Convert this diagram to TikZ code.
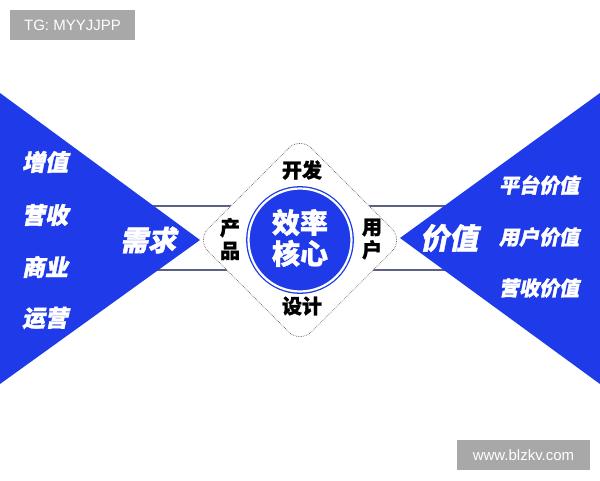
\documentclass[tikz,border=0pt]{standalone}
\usepackage{fontspec}
\setmainfont{Liberation Sans}
\newfontfamily\cjk{Noto Sans CJK SC}[BoldFeatures={FakeBold=1.2}]
\newfontfamily\cjkslant{Noto Sans CJK SC}[FakeSlant=0.2, BoldFeatures={FakeBold=1.5}]
\definecolor{mainblue}{RGB}{31,58,232}
\definecolor{bandline}{RGB}{92,96,132}
\definecolor{markgray}{RGB}{168,168,168}
\tikzset{
  sidetext/.style={text=white, font=\cjkslant\bfseries\fontsize{#1}{#1}\selectfont, inner sep=0pt},
  ringtext/.style={text=black, font=\cjk\bfseries\fontsize{20}{23}\selectfont, inner sep=0pt, align=center},
  stamp/.style={fill=markgray, text=white, font=\fontsize{15}{15}\selectfont, inner sep=0pt, minimum height=30pt}
}
\begin{document}
\begin{tikzpicture}[x=1pt, y=-1pt]
  \useasboundingbox (0,0) rectangle (600,480);

  % Band lines behind everything
  \draw[bandline, line width=1.6pt] (140,206) -- (460,206);
  \draw[bandline, line width=1.6pt] (140,270) -- (460,270);

  % Triangles
  \fill[mainblue] (0,93) -- (200,240) -- (0,384) -- cycle;
  \fill[mainblue] (600,93) -- (400,238) -- (600,384) -- cycle;

  % Frame and core
  \node[draw=black!60, fill=white, densely dotted, line width=0.7pt, rounded corners=16pt,
        minimum size=146pt, rotate=45] (frame) at (300,240) {};
  \node[circle, fill=mainblue, draw=mainblue, double=white, double distance=2.2pt,
        line width=1.3pt, minimum size=103pt] (core) at (300,240) {};
  \node[sidetext=28, font=\cjk\bfseries\fontsize{28}{31}\selectfont, align=center] (coretext) at (300,238) {效率\\核心};

  % Texts on the frame
  \node[ringtext] (kaifa) at (302,170) {开发};
  \node[ringtext] (sheji) at (302,306) {设计};
  \node[ringtext] (chanpin) at (230,239) {产\\品};
  \node[ringtext] (yonghu) at (372,239) {用\\户};

  % Left side
  \node[sidetext=28] (xuqiu) at (148,240) {需求};
  \foreach \y/\name/\txt in {162/zz/增值, 215/ys/营收, 267/sy/商业, 318/yy/运营} {
    \node[sidetext=23] (\name) at (45,\y) {\txt};
  }

  % Right side
  \node[sidetext=29] (jiazhi) at (449,238) {价值};
  \foreach \y/\name/\txt in {185/pt/平台价值, 237/yh/用户价值, 288/ysj/营收价值} {
    \node[sidetext=20] (\name) at (539,\y) {\txt};
  }

  % Stamps
  \node[stamp, minimum width=125pt] (tg) at (72.5,25) {TG: MYYJJPP};
  \node[stamp, minimum width=133pt] (web) at (523.5,455) {www.blzkv.com};
\end{tikzpicture}
\end{document}
